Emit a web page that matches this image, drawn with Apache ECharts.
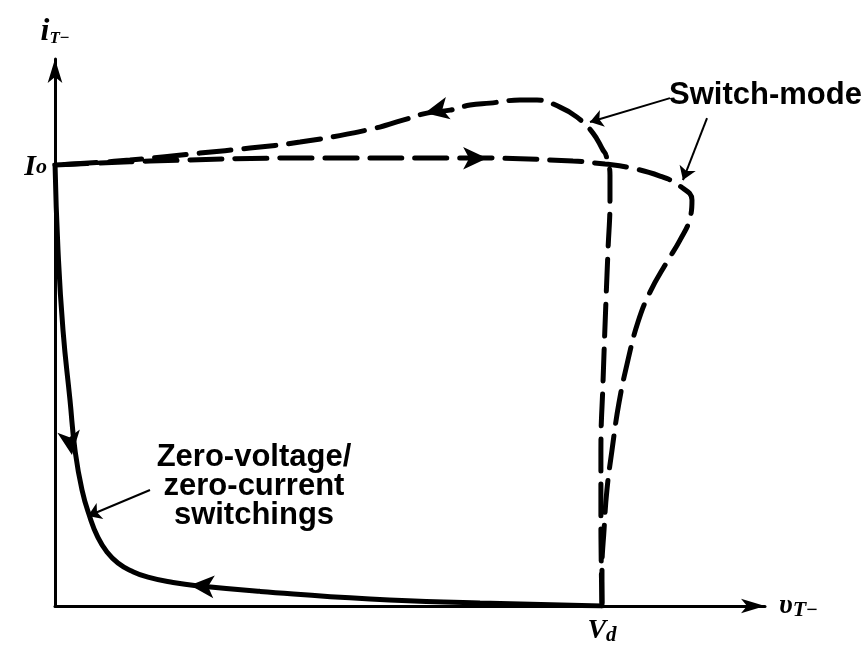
<!DOCTYPE html>
<html lang="en">
<head>
<meta charset="utf-8" />
<title>Switching trajectories</title>
<script src="https://cdn.jsdelivr.net/npm/echarts@6/dist/echarts.min.js"></script>
<style>
  html, body { margin: 0; padding: 0; background: #fff; }
  #main { width: 867px; height: 649px; }
</style>
</head>
<body>
<div id="main"></div>
<script>
// v in units of Vd, i in units of Io
var solidV = [0, 0.0055, 0.0146, 0.0274, 0.0366, 0.0494, 0.064, 0.078, 0.095, 0.115, 0.140, 0.170, 0.216, 0.265, 0.375, 0.576, 0.777, 1.0];
var solidI = [1.0, 0.8036, 0.623, 0.465, 0.352, 0.262, 0.200, 0.156, 0.122, 0.097, 0.079, 0.065, 0.053, 0.045, 0.033, 0.0160, 0.0070, 0];

// switch-mode turn-off (lower dashed loop)
var offV = [0, 0.1737, 0.4479, 0.777, 0.947, 1.0055, 1.0457, 1.106, 1.1426, 1.1645, 1.161, 1.1426, 1.1188, 1.0878, 1.0658, 1.0475, 1.031, 1.0183, 1.009, 1.0037, 1.0, 1.0];
var offI = [0.9955, 1.0045, 1.0113, 1.0113, 1.0045, 0.9977, 0.991, 0.9707, 0.948, 0.9165, 0.8758, 0.826, 0.777, 0.7088, 0.641, 0.5553, 0.4582, 0.352, 0.262, 0.1716, 0.0813, 0];

// switch-mode turn-on (upper dashed loop)
var onV = [1.0, 0.998, 0.998, 1.0018, 1.0073, 1.011, 1.0146, 1.0146, 1.0073, 1.0018, 0.9835, 0.9543, 0.9232, 0.8812, 0.850, 0.7952, 0.7587, 0.7221, 0.680, 0.636, 0.570, 0.448, 0.3565, 0.265, 0.137, 0];
var onI = [0, 0.194, 0.352, 0.5034, 0.6907, 0.8036, 0.9165, 0.9729, 1.018, 1.0293, 1.0677, 1.1038, 1.1264, 1.1422, 1.1422, 1.1354, 1.131, 1.1196, 1.1129, 1.097, 1.0745, 1.0474, 1.0339, 1.0226, 1.0068, 0.9955];

// direction arrows on the trajectories
var arrowV = [0.031, 0.247, 0.79, 0.676];
var arrowI = [0.341, 0.047, 1.011, 1.113];
var arrowDir = [188, 86, -90, 102];

// callout pointers [fromV, fromI, toV, toI]
var pointers = [
  [1.1243, 1.1467, 0.978, 1.0926],
  [1.192, 1.1016, 1.148, 0.9616],
  [0.1737, 0.262, 0.0603, 0.2032]
];

var xTickValues = [1];
var xTickLabels = ['V_d'];
var yTickValues = [1];
var yTickLabels = ['I_o'];

var xMax = 1.298, yMax = 1.235;

function zip(a, b) {
  var out = [];
  for (var k = 0; k < a.length; k++) out.push([a[k], b[k]]);
  return out;
}

function subLabel(s) {
  var p = s.split('_');
  return '{m|' + p[0] + '}{s|' + p[1] + '}';
}

var myChart = echarts.init(document.getElementById('main'), null, {renderer: 'canvas'});

var serif = 'Liberation Serif';
var sans = 'Liberation Sans';

var dash = {color: '#000', width: 5, type: [32, 13], cap: 'round'};

var arrowData = [];
for (var k = 0; k < arrowV.length; k++) {
  arrowData.push({value: [arrowV[k], arrowI[k]], symbolRotate: arrowDir[k]});
}

var pointerData = pointers.map(function (p) {
  return {coords: [[p[0], p[1]], [p[2], p[3]]]};
});

option = {
  animation: false,
  backgroundColor: '#fff',
  grid: {left: 55, right: 102, top: 59, bottom: 43, outerBoundsMode: 'none'},
  xAxis: {
    type: 'value', min: 0, max: xMax, interval: 1,
    axisLine: {show: true, onZero: false, symbol: ['none', 'arrow'], symbolSize: [11, 24],
      lineStyle: {color: '#000', width: 3}},
    axisTick: {show: false},
    splitLine: {show: false},
    axisLabel: {
      margin: 10,
      formatter: function (v) {
        var idx = xTickValues.indexOf(v);
        return idx < 0 ? '' : subLabel(xTickLabels[idx]);
      },
      rich: {
        m: {fontFamily: serif, fontStyle: 'italic', fontWeight: 'bold', fontSize: 28, color: '#000', lineHeight: 30},
        s: {fontFamily: serif, fontStyle: 'italic', fontWeight: 'bold', fontSize: 21, color: '#000', lineHeight: 30, verticalAlign: 'bottom', padding: [10, 0, 0, 0]}
      }
    },
    name: '{m|υ}{s|T}{u|−}',
    nameLocation: 'end',
    nameGap: 14,
    nameTextStyle: {
      rich: {
        m: {fontFamily: serif, fontStyle: 'italic', fontWeight: 'bold', fontSize: 28, color: '#000', lineHeight: 30},
        s: {fontFamily: serif, fontStyle: 'italic', fontWeight: 'bold', fontSize: 22, color: '#000', lineHeight: 30, verticalAlign: 'bottom', padding: [6, 0, 0, 0]},
        u: {fontFamily: serif, fontWeight: 'bold', fontSize: 20, color: '#000', lineHeight: 30, verticalAlign: 'bottom', padding: [14, 0, 0, 0]}
      }
    }
  },
  yAxis: {
    type: 'value', min: 0, max: yMax, interval: 1,
    axisLine: {show: true, onZero: false, symbol: ['none', 'arrow'], symbolSize: [11, 24],
      lineStyle: {color: '#000', width: 3}},
    axisTick: {show: false},
    splitLine: {show: false},
    axisLabel: {
      margin: 8,
      formatter: function (v) {
        var idx = yTickValues.indexOf(v);
        return idx < 0 ? '' : subLabel(yTickLabels[idx]);
      },
      rich: {
        m: {fontFamily: serif, fontStyle: 'italic', fontWeight: 'bold', fontSize: 30, color: '#000', lineHeight: 30, padding: [8, 0, 0, 0]},
        s: {fontFamily: serif, fontStyle: 'italic', fontWeight: 'bold', fontSize: 22, color: '#000', lineHeight: 30, verticalAlign: 'bottom', padding: [16, 0, 0, 0]}
      }
    },
    name: '{m|i}{s|T}{u|−}',
    nameLocation: 'end',
    nameGap: 12,
    nameTextStyle: {
      rich: {
        m: {fontFamily: serif, fontStyle: 'italic', fontWeight: 'bold', fontSize: 32, color: '#000', lineHeight: 30},
        s: {fontFamily: serif, fontStyle: 'italic', fontWeight: 'bold', fontSize: 17, color: '#000', lineHeight: 30, verticalAlign: 'bottom', padding: [6, 0, 0, 0]},
        u: {fontFamily: serif, fontWeight: 'bold', fontSize: 17, color: '#000', lineHeight: 30, verticalAlign: 'bottom', padding: [10, 0, 0, 0]}
      }
    }
  },
  graphic: [
    {type: 'text', x: 669, y: 95,
      style: {text: 'Switch-mode', fill: '#000', fontFamily: sans, fontWeight: 'bold', fontSize: 31, align: 'left', verticalAlign: 'middle'}},
    {type: 'text', x: 254, y: 486,
      style: {text: 'Zero-voltage/\nzero-current\nswitchings', fill: '#000', fontFamily: sans, fontWeight: 'bold', fontSize: 31, lineHeight: 29, align: 'center', verticalAlign: 'middle'}}
  ],
  series: [
    {
      name: 'ZVS/ZCS', type: 'line', data: zip(solidV, solidI), smooth: 0.5,
      showSymbol: false, lineStyle: {color: '#000', width: 5}
    },
    {
      name: 'turn-off', type: 'line', data: zip(offV, offI), smooth: 0.45,
      showSymbol: false, lineStyle: dash
    },
    {
      name: 'turn-on', type: 'line', data: zip(onV, onI), smooth: 0.45,
      showSymbol: false, lineStyle: dash
    },
    {
      name: 'direction', type: 'scatter', data: arrowData,
      symbol: 'arrow', symbolSize: [17, 24],
      itemStyle: {color: '#000', opacity: 1}
    },
    {
      name: 'callouts', type: 'lines', coordinateSystem: 'cartesian2d',
      data: pointerData,
      symbol: ['none', 'arrow'], symbolSize: 13,
      lineStyle: {color: '#000', width: 2, opacity: 1}
    }
  ]
};

myChart.setOption(option);
</script>
</body>
</html>
